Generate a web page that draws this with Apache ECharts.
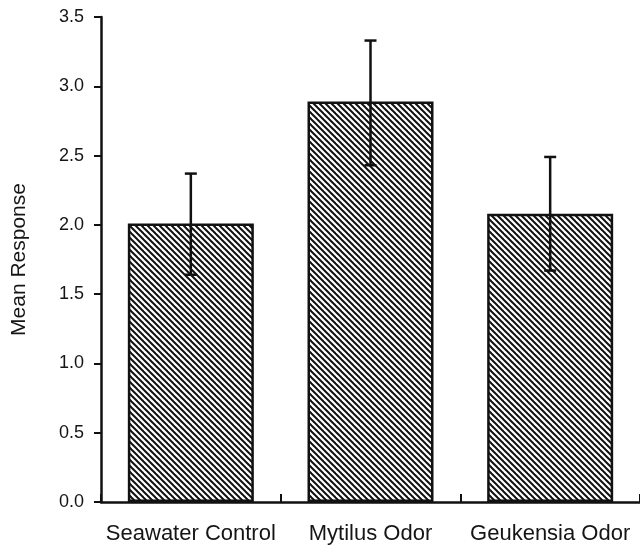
<!DOCTYPE html>
<html>
<head>
<meta charset="utf-8">
<script src="https://cdn.jsdelivr.net/npm/echarts@6/dist/echarts.min.js"></script>
<style>
  html, body { margin: 0; padding: 0; background: #fff; }
  #main { width: 640px; height: 547px; }
</style>
</head>
<body>
<div id="main"></div>
<script>
// data
var categories = ['Seawater Control', 'Mytilus Odor', 'Geukensia Odor']
var meanValues = [2.01, 2.89, 2.08]
var errLow = [1.64, 2.43, 1.67]
var errHigh = [2.37, 3.33, 2.49]
var yTicks = [0, 0.5, 1, 1.5, 2, 2.5, 3, 3.5]

// hatch pattern for the bars ("\" lines)
function makeHatch () {
  var s = 6
  var c = document.createElement('canvas')
  c.width = s
  c.height = s
  var ctx = c.getContext('2d')
  ctx.fillStyle = '#fff'
  ctx.fillRect(0, 0, s, s)
  ctx.strokeStyle = '#111'
  ctx.lineWidth = 2
  for (var k = -1; k <= 1; k++) {
    ctx.beginPath()
    ctx.moveTo(k * s - 1, -1)
    ctx.lineTo(k * s + s + 1, s + 1)
    ctx.stroke()
  }
  return c
}

var myChart = echarts.init(document.getElementById('main'))
var txt = { fontFamily: 'Liberation Sans, Arial, sans-serif', color: '#151515' }

var option = {
  backgroundColor: '#fff',
  animation: false,
  grid: { left: 101, right: -1, top: 17, bottom: 45 },
  xAxis: {
    type: 'category',
    data: categories,
    axisLine: { lineStyle: { color: '#111', width: 2.5 } },
    axisTick: { show: true, inside: true, length: 8, lineStyle: { color: '#111', width: 2 } },
    axisLabel: Object.assign({ fontSize: 22, margin: 21, interval: 0, hideOverlap: false }, txt)
  },
  yAxis: {
    type: 'value',
    min: 0,
    max: yTicks[yTicks.length - 1],
    interval: 0.5,
    name: 'Mean Response',
    nameLocation: 'middle',
    nameGap: 71,
    nameTextStyle: Object.assign({ fontSize: 21 }, txt),
    axisLine: { show: true, lineStyle: { color: '#111', width: 2.5 } },
    axisTick: { show: true, length: 7, lineStyle: { color: '#111', width: 2 } },
    splitLine: { show: false },
    axisLabel: Object.assign({
      fontSize: 18,
      margin: 17,
      formatter: function (v) { return v.toFixed(1) }
    }, txt)
  },
  series: [
    {
      type: 'bar',
      data: meanValues,
      barWidth: 126,
      itemStyle: {
        color: { image: makeHatch(), repeat: 'repeat' },
        borderColor: '#111',
        borderWidth: 2.5
      }
    },
    {
      type: 'custom',
      data: categories.map(function (c, i) { return [i, errLow[i], errHigh[i]] }),
      z: 10,
      renderItem: function (params, api) {
        var i = api.value(0)
        var lo = api.coord([i, api.value(1)])
        var hi = api.coord([i, api.value(2)])
        var w = 6
        var st = { stroke: '#111', lineWidth: 2.5 }
        return {
          type: 'group',
          children: [
            { type: 'line', shape: { x1: hi[0], y1: hi[1], x2: lo[0], y2: lo[1] }, style: st },
            { type: 'line', shape: { x1: hi[0] - w, y1: hi[1], x2: hi[0] + w, y2: hi[1] }, style: st },
            { type: 'line', shape: { x1: lo[0] - w, y1: lo[1], x2: lo[0] + w, y2: lo[1] }, style: st }
          ]
        }
      }
    }
  ]
}
myChart.setOption(option)
</script>
</body>
</html>
